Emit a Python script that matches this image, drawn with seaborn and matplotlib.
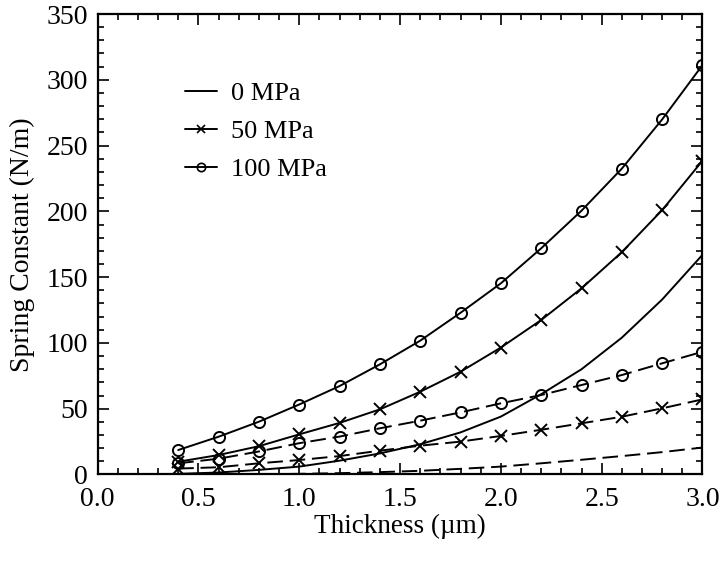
import matplotlib
matplotlib.use("Agg")
import matplotlib.pyplot as plt
from matplotlib.lines import Line2D
from matplotlib.ticker import MultipleLocator
import seaborn as sns
import pandas as pd

thickness = [0.4, 0.6, 0.8, 1.0, 1.2, 1.4, 1.6, 1.8, 2.0, 2.2, 2.4, 2.6, 2.8, 3.0]

# solid curves
k0_solid = [0.5, 1.5, 3.5, 6.0, 10.5, 16.0, 23.0, 32.0, 44.0, 61.0, 80.0, 104.0, 133.0, 167.0]
k50_solid = [9.7, 14.8, 21.5, 30.5, 39.2, 49.5, 62.9, 78.1, 96.5, 117.4, 141.5, 169.0, 201.0, 238.5]
k100_solid = [18.6, 28.7, 40.1, 53.2, 67.2, 83.7, 101.7, 122.9, 145.3, 171.9, 200.5, 232.5, 269.9, 311.2]

# dashed curves
k0_dashed = [0.0, 0.1, 0.2, 0.5, 1.0, 1.8, 2.8, 4.3, 6.0, 8.5, 11.2, 14.0, 17.0, 20.5]
k50_dashed = [4.5, 5.5, 8.5, 11.0, 14.0, 18.1, 21.9, 25.0, 29.3, 34.0, 38.9, 43.9, 50.3, 57.1]
k100_dashed = [8.5, 12.0, 17.5, 23.8, 28.8, 35.1, 40.9, 47.2, 54.1, 60.4, 68.0, 75.6, 84.5, 93.3]

labels = ["0 MPa", "50 MPa", "100 MPa"]
markers = [None, "x", "o"]

sns.set_theme(style="ticks")
plt.rcParams["font.family"] = ["Liberation Serif", "DejaVu Serif"]
plt.rcParams["text.color"] = "black"
plt.rcParams["axes.labelcolor"] = "black"
plt.rcParams["xtick.color"] = "black"
plt.rcParams["ytick.color"] = "black"

fig = plt.figure(figsize=(7.24, 5.63), dpi=100)
ax = fig.add_axes([0.1347, 0.1572, 0.8356, 0.8179])

series = [
    (k0_solid, labels[0], "solid"), (k50_solid, labels[1], "solid"), (k100_solid, labels[2], "solid"),
    (k0_dashed, labels[0], "dashed"), (k50_dashed, labels[1], "dashed"), (k100_dashed, labels[2], "dashed"),
]

for vals, lab, case in series:
    df = pd.DataFrame({"Thickness": thickness, "k": vals})
    m = markers[labels.index(lab)]
    kw = dict(color="black", linewidth=1.4)
    if m is not None:
        kw.update(marker=m, markersize=8, markerfacecolor="none",
                  markeredgecolor="black", markeredgewidth=1.4)
    n_before = len(ax.lines)
    sns.lineplot(data=df, x="Thickness", y="k", ax=ax, legend=False, **kw)
    if case == "dashed":
        for ln in ax.lines[n_before:]:
            ln.set_dashes((8, 3.5))

ax.set_xlim(0, 3.0)
ax.set_ylim(0, 350)
ax.xaxis.set_major_locator(MultipleLocator(0.5))
ax.xaxis.set_minor_locator(MultipleLocator(0.1))
ax.yaxis.set_major_locator(MultipleLocator(50))
ax.yaxis.set_minor_locator(MultipleLocator(10))
ax.xaxis.set_major_formatter(matplotlib.ticker.FormatStrFormatter("%.1f"))
ax.tick_params(which="both", direction="in", top=True, right=True, colors="black",
               labelsize=20, width=1.2)
ax.tick_params(which="major", length=8)
ax.tick_params(axis="x", which="major", pad=9)
ax.tick_params(axis="y", which="major", pad=7)
ax.tick_params(which="minor", length=4)
for s in ax.spines.values():
    s.set_linewidth(1.6)
    s.set_color("black")

ax.set_xlabel("Thickness (\u00b5m)", fontsize=19.5, labelpad=1)
ax.set_ylabel("Spring Constant (N/m)", fontsize=20, labelpad=8)

handles = [
    Line2D([], [], color="black", linewidth=1.4),
    Line2D([], [], color="black", linewidth=1.4, marker="x", markersize=6, markeredgewidth=1.2),
    Line2D([], [], color="black", linewidth=1.4, marker="o", markersize=6, markerfacecolor="none",
           markeredgewidth=1.2),
]
ax.legend(handles, labels, loc="upper left", bbox_to_anchor=(0.145, 0.853), frameon=False,
          fontsize=19, handlelength=1.2, handletextpad=0.55, labelspacing=0.55,
          borderpad=0, borderaxespad=0)

fig.savefig("out.png", dpi=100)
